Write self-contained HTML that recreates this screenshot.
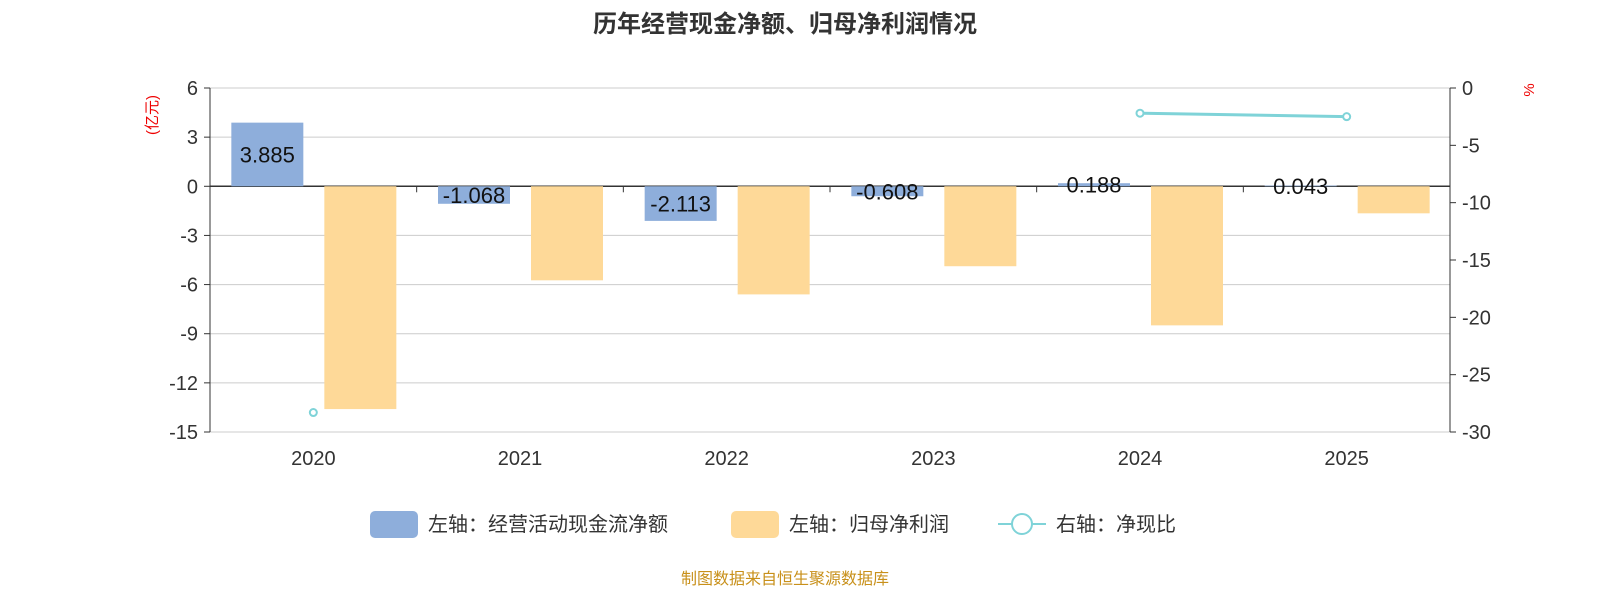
<!DOCTYPE html>
<html><head><meta charset="utf-8"><style>
body{margin:0;background:#fff;font-family:"Liberation Sans","Noto Sans CJK SC",sans-serif;}
svg text{font-family:"Liberation Sans","Noto Sans CJK SC",sans-serif;}
</style></head><body>
<svg id="c" width="1600" height="600">
<text x="785" y="32" text-anchor="middle" font-size="24" font-weight="bold" fill="#333">历年经营现金净额、归母净利润情况</text>
<text transform="translate(157,115) rotate(-90)" text-anchor="middle" font-size="15" fill="#e00">(亿元)</text>
<text x="1528" y="96" text-anchor="middle" font-size="15" fill="#e00" transform="rotate(-90,1528,90)">%</text>
<g id="grid"></g><g id="bars"></g><g id="line"></g><g id="axes"></g>
<g>
<rect x="370" y="511" width="48" height="27" rx="5" fill="#8eaedb"/>
<text x="428" y="531" font-size="20" fill="#333">左轴：经营活动现金流净额</text>
<rect x="731" y="511" width="48" height="27" rx="5" fill="#fed998"/>
<text x="789" y="531" font-size="20" fill="#333">左轴：归母净利润</text>
<line x1="998" y1="524" x2="1046" y2="524" stroke="#7fd3d8" stroke-width="2"/>
<circle cx="1022" cy="524" r="10" fill="#fff" stroke="#7fd3d8" stroke-width="2"/>
<text x="1056" y="531" font-size="20" fill="#333">右轴：净现比</text>
</g>
<text x="785" y="584" text-anchor="middle" font-size="16" fill="#c8901a">制图数据来自恒生聚源数据库</text>
</svg>
<script>
const categories=["2020","2021","2022","2023","2024","2025"];
const cashFlow=[3.885,-1.068,-2.113,-0.608,0.188,0.043];
const profit=[-13.6,-5.74,-6.6,-4.88,-8.49,-1.65];
const ratio=[-28.3,null,null,null,-2.2,-2.5];
const leftTicks=[6,3,0,-3,-6,-9,-12,-15];
const rightTicks=[0,-5,-10,-15,-20,-25,-30];
const NS="http://www.w3.org/2000/svg";
const L=210,R=1450,T=88,B=432;
const yL=v=>T+(6-v)/21*(B-T);
const yR=v=>T+(0-v)/30*(B-T);
const bw=(R-L)/categories.length;
const xc=i=>L+bw*(i+0.5);
function mk(g,tag,a){const e=document.createElementNS(NS,tag);for(const k in a)e.setAttribute(k,a[k]);document.getElementById(g).appendChild(e);return e;}
leftTicks.forEach(v=>{
 const l=mk('grid','line',{x1:L,x2:R,y1:yL(v),y2:yL(v),stroke:v===0?'#333':'#ccc','stroke-width':v===0?1.5:1});
 
 
 mk('axes','line',{x1:L-6,x2:L,y1:yL(v),y2:yL(v),stroke:'#333'});
 const t=mk('axes','text',{x:L-12,y:yL(v)+7,'text-anchor':'end','font-size':20,fill:'#333'});t.textContent=v;
 
 
});
rightTicks.forEach(v=>{
 mk('axes','line',{x1:R,x2:R+6,y1:yR(v),y2:yR(v),stroke:'#333'});
 const t=mk('axes','text',{x:R+12,y:yR(v)+7,'font-size':20,fill:'#333'});t.textContent=v;
 
 
});
mk('axes','line',{x1:L,x2:L,y1:T,y2:B,stroke:'#333'});
mk('axes','line',{x1:R,x2:R,y1:T,y2:B,stroke:'#333'});
for(let i=0;i<=categories.length;i++)mk('axes','line',{x1:L+bw*i,x2:L+bw*i,y1:yL(0),y2:yL(0)+6,stroke:'#333'});
categories.forEach((c,i)=>{
 const t=mk('axes','text',{x:xc(i),y:B+33,'text-anchor':'middle','font-size':20,fill:'#333'});t.textContent=c;
 
 
 const cx=xc(i)-46,px=xc(i)+47,w=72;
 const y0=yL(0),y1=yL(cashFlow[i]);
 const b=mk('bars','rect',{x:cx-w/2,y:Math.min(y0,y1),width:w,height:Math.abs(y1-y0),fill:'#8eaedb'});
 
 
 const p1=yL(profit[i]);
 const b2=mk('bars','rect',{x:px-w/2,y:y0,width:w,height:p1-y0,fill:'#fed998'});
 
 
 const lb=mk('bars','text',{x:cx,y:(y0+y1)/2+8,'text-anchor':'middle','font-size':22,fill:'#111'});lb.textContent=cashFlow[i].toFixed(3);
 
 
});
let seg=[];
ratio.forEach((v,i)=>{ if(v===null){seg=[];return;} const x=xc(i),y=yR(v);
 if(seg.length){const ln=mk('line','line',{x1:seg[0],y1:seg[1],x2:x,y2:y,stroke:'#7fd3d8','stroke-width':3});}
 seg=[x,y];});
ratio.forEach((v,i)=>{ if(v===null)return;
 const c=mk('line','circle',{cx:xc(i),cy:yR(v),r:3.5,fill:'#fff',stroke:'#7fd3d8','stroke-width':2});
 
 });
</script>
</body></html>
